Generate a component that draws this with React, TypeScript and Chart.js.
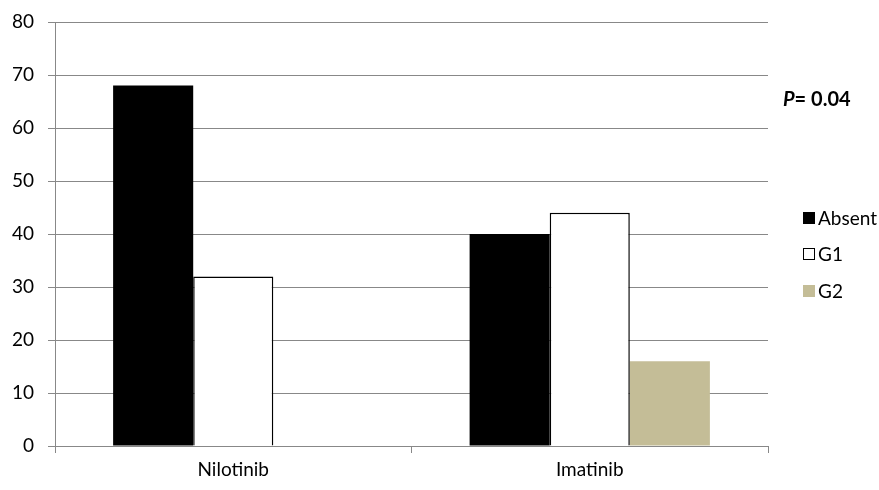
import React, { useEffect, useRef } from "react";
import { Chart, registerables } from "chart.js";

Chart.register(...registerables);

const categories = ["Nilotinib", "Imatinib"];
const seriesNames = ["Absent", "G1", "G2"];
const absentValues = [68, 40];
const g1Values = [32, 44];
const g2Values = [0, 16];
const yTicks = [0, 10, 20, 30, 40, 50, 60, 70, 80];
const pValueText = "0.04";

const FONT = "Lato, 'Open Sans', sans-serif";

const overlayPlugin = {
  id: "overlay",
  afterDraw(chart: any) {
    const ctx = chart.ctx;
    ctx.save();
    // P value
    ctx.fillStyle = "#000";
    ctx.textBaseline = "middle";
    ctx.font = `italic bold 20px ${FONT}`;
    const px = 783;
    const py = 100;
    ctx.fillText("P", px, py);
    const pw = ctx.measureText("P").width;
    ctx.font = `bold 20px ${FONT}`;
    ctx.fillText("= " + pValueText, px + pw, py);
    // legend
    const ys = [218, 254, 291];
    ctx.font = `19px ${FONT}`;
    chart.data.datasets.forEach((ds: any, i: number) => {
      const y = ys[i];
      ctx.fillStyle = ds.backgroundColor;
      ctx.fillRect(803, y - 6, 12, 12);
      if (ds.borderWidth) {
        ctx.strokeStyle = ds.borderColor;
        ctx.lineWidth = 1;
        ctx.strokeRect(803.5, y - 5.5, 11, 11);
      }
      ctx.fillStyle = "#000";
      ctx.fillText(ds.label, 818, y + 1);
    });
    ctx.restore();
  },
};

export default function App() {
  const ref = useRef<HTMLCanvasElement>(null);
  useEffect(() => {
    document.body.style.margin = "0";
    const chart = new Chart(ref.current!, {
      type: "bar",
      data: {
        labels: categories,
        datasets: [
          {
            label: seriesNames[0],
            data: absentValues,
            backgroundColor: "#000000",
            borderWidth: 0,
          },
          {
            label: seriesNames[1],
            data: g1Values,
            backgroundColor: "#ffffff",
            borderColor: "#000000",
            borderWidth: 1.5,
          },
          {
            label: seriesNames[2],
            data: g2Values,
            backgroundColor: "#c4bd97",
            borderWidth: 0,
          },
        ],
      },
      options: {
        responsive: false,
        animation: false,
        layout: { padding: { top: 22, right: 111, bottom: 0, left: 0 } },
        plugins: { legend: { display: false }, tooltip: { enabled: false } },
        datasets: { bar: { categoryPercentage: 0.674, barPercentage: 1 } },
        scales: {
          x: {
            offset: true,
            grid: {
              offset: true,
              drawOnChartArea: false,
              drawTicks: true,
              tickLength: 7,
              color: "#888888",
            },
            border: { color: "#888888", width: 1 },
            ticks: { color: "#000", font: { family: FONT, size: 19 }, padding: 5 },
            afterFit(scale: any) {
              scale.height = 44;
              scale.paddingLeft = 0;
              scale.paddingRight = 0;
            },
          },
          y: {
            min: 0,
            max: 80,
            afterBuildTicks(scale: any) {
              scale.ticks = yTicks.map((v) => ({ value: v }));
            },
            grid: { color: "#888888", tickLength: 7, drawTicks: true },
            border: { color: "#888888", width: 1 },
            ticks: { color: "#000", font: { family: FONT, size: 19 }, padding: 14 },
            afterFit(scale: any) {
              scale.width = 55;
              scale.paddingTop = 0;
              scale.paddingBottom = 0;
            },
          },
        },
      },
      plugins: [overlayPlugin],
    } as any);
    return () => chart.destroy();
  }, []);
  return <canvas ref={ref} width={879} height={490} style={{ display: "block" }} />;
}
